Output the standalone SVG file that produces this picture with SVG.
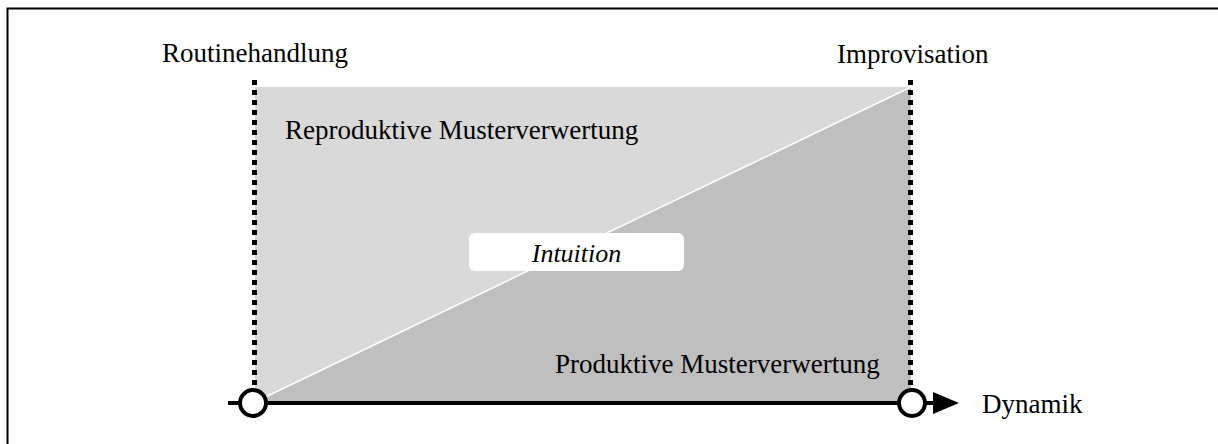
<svg xmlns="http://www.w3.org/2000/svg" width="1218" height="444" viewBox="0 0 1218 444">
  <style>
    .lbl { font-family: "Liberation Serif", "Times New Roman", serif; font-size: 27px; fill: #000; }
    .it { font-style: italic; font-size: 26px; }
    .dots { stroke: #000; stroke-width: 5; stroke-dasharray: 5 5; fill: none; }
    .axis { stroke: #000; stroke-width: 4; fill: none; }
    .pt { fill: #fff; stroke: #000; stroke-width: 4; }
  </style>
  <defs>
    <marker id="arrowhead" viewBox="0 0 26 22" refX="0" refY="11" markerWidth="26" markerHeight="22" markerUnits="userSpaceOnUse" orient="auto">
      <path d="M0,0 L26,11 L0,22 Z" fill="#000"/>
    </marker>
  </defs>

  <rect width="1218" height="444" fill="#fff"/>
  <!-- frame (open towards right and bottom) -->
  <path d="M7.5,444 V8.5 H1218" fill="none" stroke="#000" stroke-width="2"/>

  <!-- field between routine and improvisation -->
  <g id="field">
    <polygon id="reproduktiv" points="255,87 911,87 255,402" fill="#d9d9d9"/>
    <polygon id="produktiv" points="911,87 911,402 255,402" fill="#bfbfbf"/>
    <line x1="255" y1="402" x2="911" y2="87" stroke="#fff" stroke-width="1.5"/>
  </g>

  <g id="connectors">
    <line class="dots" x1="254.5" y1="80" x2="254.5" y2="390"/>
    <line class="dots" x1="910.5" y1="80" x2="910.5" y2="390"/>
    <line class="axis" x1="228" y1="403" x2="898" y2="403"/>
    <line class="axis" x1="926" y1="403" x2="933" y2="403" marker-end="url(#arrowhead)"/>
  </g>

  <g id="routine">
    <circle class="pt" cx="253" cy="403" r="13"/>
    <text class="lbl" x="162" y="62">Routinehandlung</text>
  </g>

  <g id="improvisation">
    <circle class="pt" cx="912" cy="403" r="13"/>
    <text class="lbl" x="837" y="63">Improvisation</text>
  </g>

  <g id="dynamik">
    <text class="lbl" x="982" y="413">Dynamik</text>
  </g>

  <g id="reproduktive-musterverwertung">
    <text class="lbl" x="285" y="139">Reproduktive Musterverwertung</text>
  </g>

  <g id="produktive-musterverwertung">
    <text class="lbl" x="555" y="373">Produktive Musterverwertung</text>
  </g>

  <g id="intuition">
    <rect x="469" y="233" width="215" height="38" rx="6" fill="#fff"/>
    <text class="lbl it" x="576.5" y="262" text-anchor="middle">Intuition</text>
  </g>
</svg>
